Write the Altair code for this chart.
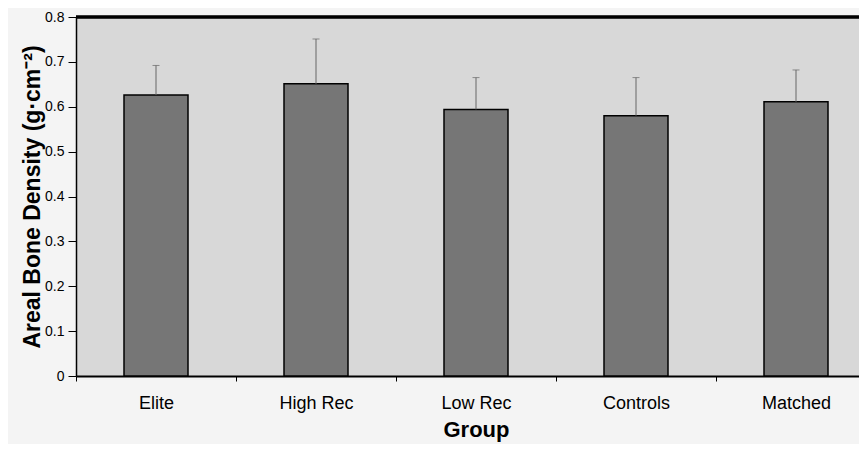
import altair as alt
import pandas as pd

groups = ["Elite", "High Rec", "Low Rec", "Controls", "Matched"]
means = [0.626, 0.651, 0.594, 0.580, 0.611]
sds = [0.066, 0.100, 0.071, 0.085, 0.071]

df = pd.DataFrame({"Group": groups, "mean": means, "sd": sds})
df["upper"] = df["mean"] + df["sd"]

FONT = "Liberation Sans"

# band scale spans 800 px although the visible plot is cut off at the page edge
x_scale = alt.Scale(paddingInner=0, paddingOuter=0, range=[0, 800])

x_enc = alt.X(
    "Group:N",
    sort=groups,
    scale=x_scale,
    axis=alt.Axis(
        title="Group",
        titleFontSize=22,
        titleFontWeight="bold",
        titleFont=FONT,
        titleColor="black",
        titlePadding=7,
        labelFont=FONT,
        labelFontSize=18,
        labelColor="black",
        labelAngle=0,
        labelPadding=13,
        tickBand="extent",
        tickColor="black",
        tickSize=5,
        domainColor="black",
        domainWidth=2,
    ),
)

y_scale = alt.Scale(domain=[0, 0.8], nice=False)

bars = alt.Chart(df).mark_bar(
    color="#767676", stroke="black", strokeWidth=1.5,
    width=alt.RelativeBandSize(0.4),
).encode(
    x=x_enc,
    y=alt.Y(
        "mean:Q",
        scale=y_scale,
        axis=alt.Axis(
            title="Areal Bone Density (g·cm⁻²)",
            titleFontSize=23,
            titleFontWeight="bold",
            titleFont=FONT,
            titleColor="black",
            titlePadding=0,
            labelFont=FONT,
            labelFontSize=14,
            labelColor="black",
            labelPadding=4,
            values=[0, 0.1, 0.2, 0.3, 0.4, 0.5, 0.6, 0.7, 0.8],
            format=".1~f",
            grid=False,
            tickColor="black",
            tickSize=8,
            domainColor="black",
            domainWidth=1.5,
        ),
    ),
)

err = alt.Chart(df).mark_rule(color="#666666", strokeWidth=1).encode(
    x=alt.X("Group:N", sort=groups, scale=x_scale),
    y=alt.Y("mean:Q", scale=y_scale),
    y2="upper:Q",
)

caps = alt.Chart(df).mark_tick(
    color="#666666", orient="horizontal", size=7, thickness=1
).encode(
    x=alt.X("Group:N", sort=groups, scale=x_scale),
    y=alt.Y("upper:Q", scale=y_scale),
)

top_border = alt.Chart(df).mark_rule(color="black", strokeWidth=2.5).encode(
    x=alt.value(0), x2=alt.value(800), y=alt.value(0)
)

chart = (
    alt.layer(bars, err, caps, top_border)
    .properties(
        width=783,
        height=359,
        background="#f4f4f4",
        padding={"left": 68, "top": 9, "right": 0, "bottom": 68},
        autosize=alt.AutoSizeParams(type="none"),
    )
    .configure_view(fill="#d8d8d8", stroke=None, strokeWidth=0)
)

chart.save("out.html", embed_options={"renderer": "svg", "actions": False})
